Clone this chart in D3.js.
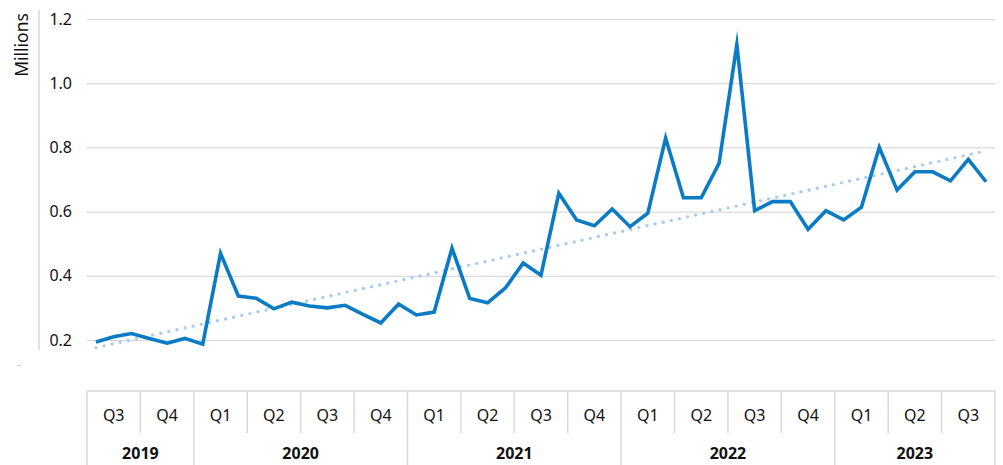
<!DOCTYPE html>
<html>
<head>
<meta charset="utf-8">
<script src="https://cdn.jsdelivr.net/npm/d3@7"></script>
<style>
  html, body { margin: 0; padding: 0; background: #fff; }
  svg { display: block; font-family: "Noto Sans", "Open Sans", sans-serif; }
</style>
</head>
<body>
<div id="chart"></div>
<script>
// monthly values, Jul 2019 - Sep 2023 (millions)
const months = [
  "2019-07","2019-08","2019-09","2019-10","2019-11","2019-12",
  "2020-01","2020-02","2020-03","2020-04","2020-05","2020-06",
  "2020-07","2020-08","2020-09","2020-10","2020-11","2020-12",
  "2021-01","2021-02","2021-03","2021-04","2021-05","2021-06",
  "2021-07","2021-08","2021-09","2021-10","2021-11","2021-12",
  "2022-01","2022-02","2022-03","2022-04","2022-05","2022-06",
  "2022-07","2022-08","2022-09","2022-10","2022-11","2022-12",
  "2023-01","2023-02","2023-03","2023-04","2023-05","2023-06",
  "2023-07","2023-08","2023-09"
];
const values = [
  0.194, 0.210, 0.220, 0.205, 0.190, 0.205,
  0.187, 0.470, 0.337, 0.330, 0.297, 0.318,
  0.306, 0.300, 0.308, 0.280, 0.253, 0.312,
  0.278, 0.287, 0.486, 0.329, 0.316, 0.362,
  0.440, 0.402, 0.657, 0.574, 0.556, 0.608,
  0.553, 0.595, 0.829, 0.643, 0.643, 0.750,
  1.120, 0.603, 0.631, 0.631, 0.545, 0.603,
  0.574, 0.614, 0.800, 0.667, 0.724, 0.724,
  0.696, 0.763, 0.693
];
const quarterLabels = ["Q3","Q4","Q1","Q2","Q3","Q4","Q1","Q2","Q3","Q4","Q1","Q2","Q3","Q4","Q1","Q2","Q3"];
const yearLabels = ["2019","2020","2021","2022","2023"];
const quartersPerYear = [2, 4, 4, 4, 3];
const yTicks = [0.2, 0.4, 0.6, 0.8, 1.0, 1.2];

const width = 1003, height = 465;
const plotLeft = 87, plotRight = 995;
const gridColor = "#d9d9d9";
const lineColor = "#0a7bc4";
const trendColor = "#a6cdee";

const svg = d3.select("#chart")
  .append("svg")
  .attr("width", width)
  .attr("height", height);

const x = d3.scaleBand()
  .domain(months)
  .range([plotLeft, plotRight])
  .padding(0);

const xq = d3.scaleBand()
  .domain(d3.range(quarterLabels.length))
  .range([plotLeft, plotRight])
  .padding(0);

const y = d3.scaleLinear()
  .domain([0.2, 1.2])
  .range([340, 19]);

const cx = d => x(d) + x.bandwidth() / 2;

// y axis line
svg.append("line")
  .attr("x1", 39).attr("x2", 39)
  .attr("y1", 10).attr("y2", 350)
  .attr("stroke", gridColor)
  .attr("stroke-width", 1.5);

// grid + labels
const yAxis = svg.append("g")
  .attr("transform", `translate(${plotLeft},0)`)
  .call(d3.axisLeft(y)
    .tickValues(yTicks)
    .tickFormat(d3.format(".1f"))
    .tickSize(-(plotRight - plotLeft))
    .tickPadding(15));
yAxis.select(".domain").remove();
yAxis.selectAll(".tick line").attr("stroke", gridColor).attr("stroke-width", 1.2);
yAxis.selectAll(".tick text")
  .attr("fill", "#111")
  .style("font-size", "16px")
  .style("font-family", "'Noto Sans', sans-serif");

svg.append("text")
  .attr("transform", "translate(22,45) rotate(-90)")
  .attr("text-anchor", "middle")
  .attr("dy", "0.35em")
  .attr("fill", "#111")
  .style("font-size", "17.5px")
  .text("Millions");

svg.append("text")
  .attr("x", 18).attr("y", 366)
  .attr("fill", "#555")
  .style("font-size", "8px")
  .text(".");

// trend line (least squares)
const idx = d3.range(values.length);
const mx = d3.mean(idx), my = d3.mean(values);
const slope = d3.sum(idx, i => (i - mx) * (values[i] - my)) / d3.sum(idx, i => (i - mx) ** 2);
const icpt = my - slope * mx;
const trend = [0, values.length - 1].map(i => ({ m: months[i], v: icpt + slope * i }));

svg.append("path")
  .datum(trend)
  .attr("fill", "none")
  .attr("stroke", trendColor)
  .attr("stroke-width", 3.4)
  .attr("stroke-linecap", "round")
  .attr("stroke-dasharray", "0 8.3")
  .attr("d", d3.line().x(d => cx(d.m)).y(d => y(d.v)));

// main line
svg.append("path")
  .datum(values)
  .attr("fill", "none")
  .attr("stroke", lineColor)
  .attr("stroke-width", 3.6)
  .attr("stroke-linejoin", "miter")
  .attr("stroke-miterlimit", 10)
  .attr("d", d3.line().x((d, i) => cx(months[i])).y(d => y(d)));

// category axis box
const axisTop = 391, qBottom = 433;
const bx = svg.append("g");
bx.append("line")
  .attr("x1", plotLeft).attr("x2", plotRight)
  .attr("y1", axisTop).attr("y2", axisTop)
  .attr("stroke", gridColor).attr("stroke-width", 1.5);

// year boundaries
const yearStart = [];
quartersPerYear.reduce((acc, n) => { yearStart.push(acc); return acc + n; }, 0);
const yearEdges = yearStart.concat([quarterLabels.length]);

bx.selectAll(".qsep")
  .data(d3.range(1, quarterLabels.length).filter(q => !yearEdges.includes(q)))
  .enter().append("line")
  .attr("x1", q => xq(q)).attr("x2", q => xq(q))
  .attr("y1", axisTop).attr("y2", qBottom)
  .attr("stroke", gridColor).attr("stroke-width", 1.5);

bx.selectAll(".ysep")
  .data(yearEdges)
  .enter().append("line")
  .attr("x1", q => q === quarterLabels.length ? plotRight : xq(q))
  .attr("x2", q => q === quarterLabels.length ? plotRight : xq(q))
  .attr("y1", axisTop).attr("y2", height)
  .attr("stroke", gridColor).attr("stroke-width", 1.5);

bx.selectAll(".qlab")
  .data(quarterLabels)
  .enter().append("text")
  .attr("x", (d, i) => xq(i) + xq.bandwidth() / 2)
  .attr("y", 415)
  .attr("dy", "0.35em")
  .attr("text-anchor", "middle")
  .attr("fill", "#111")
  .style("font-size", "16px")
  .text(d => d);

bx.selectAll(".ylab")
  .data(yearLabels)
  .enter().append("text")
  .attr("x", (d, i) => (xq(yearStart[i]) + (i + 1 < yearStart.length ? xq(yearStart[i + 1]) : plotRight)) / 2)
  .attr("y", 453)
  .attr("dy", "0.35em")
  .attr("text-anchor", "middle")
  .attr("fill", "#111")
  .style("font-size", "16px")
  .style("font-weight", "bold")
  .text(d => d);
</script>
</body>
</html>
